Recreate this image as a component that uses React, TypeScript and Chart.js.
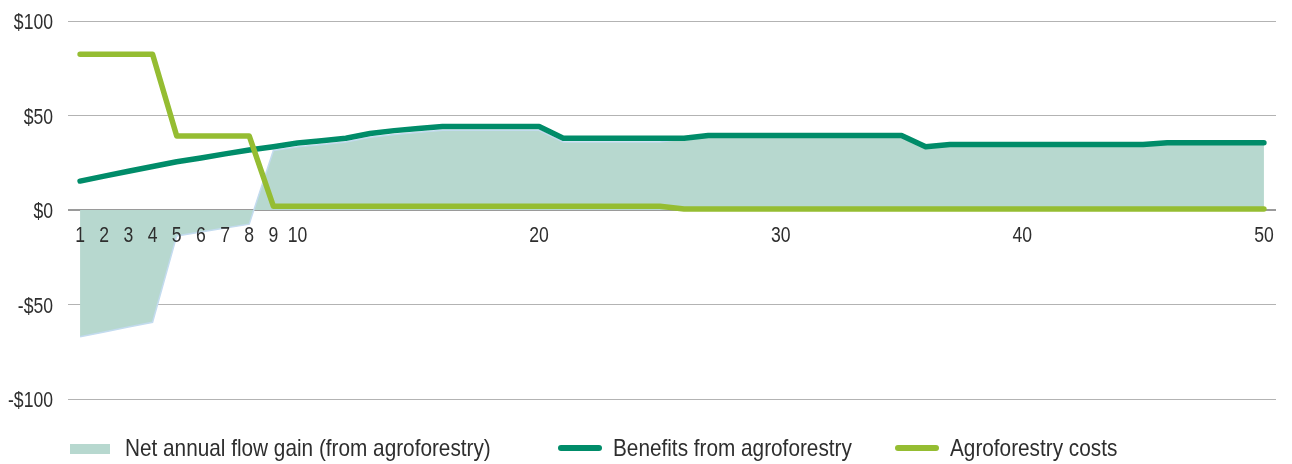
import React, { useEffect, useRef } from 'react';
import { Chart, registerables } from 'chart.js';

Chart.register(...registerables);

// ---------- data ----------
const years = [
  '1', '2', '3', '4', '5', '6', '7', '8', '9', '10',
  '11', '12', '13', '14', '15', '16', '17', '18', '19', '20',
  '21', '22', '23', '24', '25', '26', '27', '28', '29', '30',
  '31', '32', '33', '34', '35', '36', '37', '38', '39', '40',
  '41', '42', '43', '44', '45', '46', '47', '48', '49', '50',
];

const shownXTicks = ['1', '2', '3', '4', '5', '6', '7', '8', '9', '10', '20', '30', '40', '50'];

const yTickValues = [-100, -50, 0, 50, 100];
const yTickLabels = ['-$100', '-$50', '$0', '$50', '$100'];

const benefits = [
  15.3, 17.9, 20.5, 23.0, 25.5, 27.5, 29.7, 31.7, 33.5, 35.4,
  36.6, 38.0, 40.5, 42.0, 43.1, 44.2, 44.2, 44.2, 44.2, 44.2,
  38.0, 38.0, 38.0, 38.0, 38.0, 38.0, 39.4, 39.4, 39.4, 39.4,
  39.4, 39.4, 39.4, 39.4, 39.4, 33.5, 34.6, 34.6, 34.6, 34.6,
  34.6, 34.6, 34.6, 34.6, 34.6, 35.6, 35.6, 35.6, 35.6, 35.6,
];

const costs = [
  82.4, 82.4, 82.4, 82.4, 39.2, 39.2, 39.2, 39.2, 2.0, 2.0,
  2.0, 2.0, 2.0, 2.0, 2.0, 2.0, 2.0, 2.0, 2.0, 2.0,
  2.0, 2.0, 2.0, 2.0, 2.0, 0.5, 0.5, 0.5, 0.5, 0.5,
  0.5, 0.5, 0.5, 0.5, 0.5, 0.5, 0.5, 0.5, 0.5, 0.5,
  0.5, 0.5, 0.5, 0.5, 0.5, 0.5, 0.5, 0.5, 0.5, 0.5,
];

const netGain = [
  -67.1, -64.5, -61.9, -59.4, -13.7, -11.7, -9.5, -7.5, 31.5, 33.4,
  34.6, 36.0, 38.5, 40.0, 41.1, 42.2, 42.2, 42.2, 42.2, 42.2,
  36.0, 36.0, 36.0, 36.0, 36.0, 37.5, 38.9, 38.9, 38.9, 38.9,
  38.9, 38.9, 38.9, 38.9, 38.9, 33.0, 34.1, 34.1, 34.1, 34.1,
  34.1, 34.1, 34.1, 34.1, 34.1, 35.1, 35.1, 35.1, 35.1, 35.1,
];

const seriesNames = [
  'Net annual flow gain (from agroforestry)',
  'Benefits from agroforestry',
  'Agroforestry costs',
];

// ---------- styles ----------
const FONT = '"Liberation Sans", Arial, sans-serif';
const TEXT_COLOR = '#2e2e2e';
const NET_FILL = '#b7d8cf';
const NET_BORDER = '#c3dbef';
const BENEFIT_COLOR = '#008c69';
const COST_COLOR = '#95bd32';

const TICK_SIZE = 22;
const TICK_SQUEEZE = 0.8;
const LEGEND_SIZE = 24;
const LEGEND_SQUEEZE = 0.865;

// legend layout (offsets from chart area left)
const legendLayout = [
  { kind: 'box', start: 2, end: 42, text: 57 },
  { kind: 'line', start: 493, end: 531, text: 545 },
  { kind: 'line', start: 830, end: 868, text: 882 },
];

function condensedText(
  ctx: CanvasRenderingContext2D,
  text: string,
  x: number,
  y: number,
  size: number,
  squeeze: number,
  align: CanvasTextAlign,
) {
  ctx.save();
  ctx.font = `${size}px ${FONT}`;
  ctx.fillStyle = TEXT_COLOR;
  ctx.textAlign = align;
  ctx.textBaseline = 'alphabetic';
  ctx.translate(x, y);
  ctx.scale(squeeze, 1);
  ctx.fillText(text, 0, 0);
  ctx.restore();
}

const textPlugin = {
  id: 'condensedTexts',
  afterDraw(chart: any) {
    const { ctx, chartArea, scales } = chart;
    const xs = scales.x;
    const ys = scales.y;
    const zeroY = ys.getPixelForValue(0);

    // y tick labels
    yTickValues.forEach((v, i) => {
      condensedText(ctx, yTickLabels[i], chartArea.left - 15, ys.getPixelForValue(v) + 8, TICK_SIZE, TICK_SQUEEZE, 'right');
    });

    // x tick labels (axis sits on the zero line)
    years.forEach((lab, i) => {
      if (!shownXTicks.includes(lab)) return;
      condensedText(ctx, lab, xs.getPixelForValue(i), zeroY + 32, TICK_SIZE, TICK_SQUEEZE, 'center');
    });

    // legend
    const L = chartArea.left;
    const colors = [NET_FILL, BENEFIT_COLOR, COST_COLOR];
    legendLayout.forEach((item, i) => {
      ctx.save();
      if (item.kind === 'box') {
        ctx.fillStyle = colors[i];
        ctx.fillRect(L + item.start, 444, item.end - item.start, 10);
      } else {
        ctx.strokeStyle = colors[i];
        ctx.lineWidth = 6;
        ctx.lineCap = 'round';
        ctx.beginPath();
        ctx.moveTo(L + item.start, 448);
        ctx.lineTo(L + item.end, 448);
        ctx.stroke();
      }
      ctx.restore();
      condensedText(ctx, seriesNames[i], L + item.text, 456, LEGEND_SIZE, LEGEND_SQUEEZE, 'left');
    });
  },
};

if (typeof document !== 'undefined') {
  document.body.style.margin = '0';
  document.body.style.overflow = 'hidden';
}

export default function App() {
  const canvasRef = useRef<HTMLCanvasElement | null>(null);

  useEffect(() => {
    if (!canvasRef.current) return;
    const chart = new Chart(canvasRef.current, {
      type: 'line',
      data: {
        labels: years,
        datasets: [
          {
            label: seriesNames[0],
            data: netGain,
            borderColor: NET_BORDER,
            borderWidth: 1.5,
            backgroundColor: NET_FILL,
            fill: 'origin',
            pointRadius: 0,
            tension: 0,
            order: 3,
          },
          {
            label: seriesNames[1],
            data: benefits,
            borderColor: BENEFIT_COLOR,
            borderWidth: 5.5,
            borderCapStyle: 'round',
            borderJoinStyle: 'round',
            fill: false,
            pointRadius: 0,
            tension: 0,
            order: 2,
          },
          {
            label: seriesNames[2],
            data: costs,
            borderColor: COST_COLOR,
            borderWidth: 5.5,
            borderCapStyle: 'round',
            borderJoinStyle: 'round',
            fill: false,
            pointRadius: 0,
            tension: 0,
            order: 1,
          },
        ],
      },
      options: {
        animation: false,
        responsive: false,
        maintainAspectRatio: false,
        layout: { padding: { left: 0, right: 16, top: 21, bottom: 65 } },
        plugins: {
          legend: { display: false },
          tooltip: { enabled: false },
        },
        scales: {
          x: {
            type: 'category',
            position: { y: 0 },
            offset: true,
            grid: { display: false, drawTicks: false },
            border: { display: false },
            ticks: { display: false, autoSkip: false, maxRotation: 0 },
          },
          y: {
            min: -100,
            max: 100,
            afterFit: (scale: any) => {
              scale.width = 68;
            },
            afterBuildTicks: (scale: any) => {
              scale.ticks = yTickValues.map((v) => ({ value: v }));
            },
            border: { display: false },
            grid: {
              drawTicks: false,
              color: (c: any) => (c.tick && c.tick.value === 0 ? '#9a9a9a' : '#b3b3b3'),
              lineWidth: (c: any) => (c.tick && c.tick.value === 0 ? 2 : 1),
            },
            ticks: { display: false },
          },
        },
      },
      plugins: [textPlugin],
    });
    return () => chart.destroy();
  }, []);

  return (
    <div style={{ width: 1292, height: 464, position: 'relative' }}>
      <canvas ref={canvasRef} width={1292} height={464} style={{ display: 'block', width: 1292, height: 464 }} />
    </div>
  );
}
